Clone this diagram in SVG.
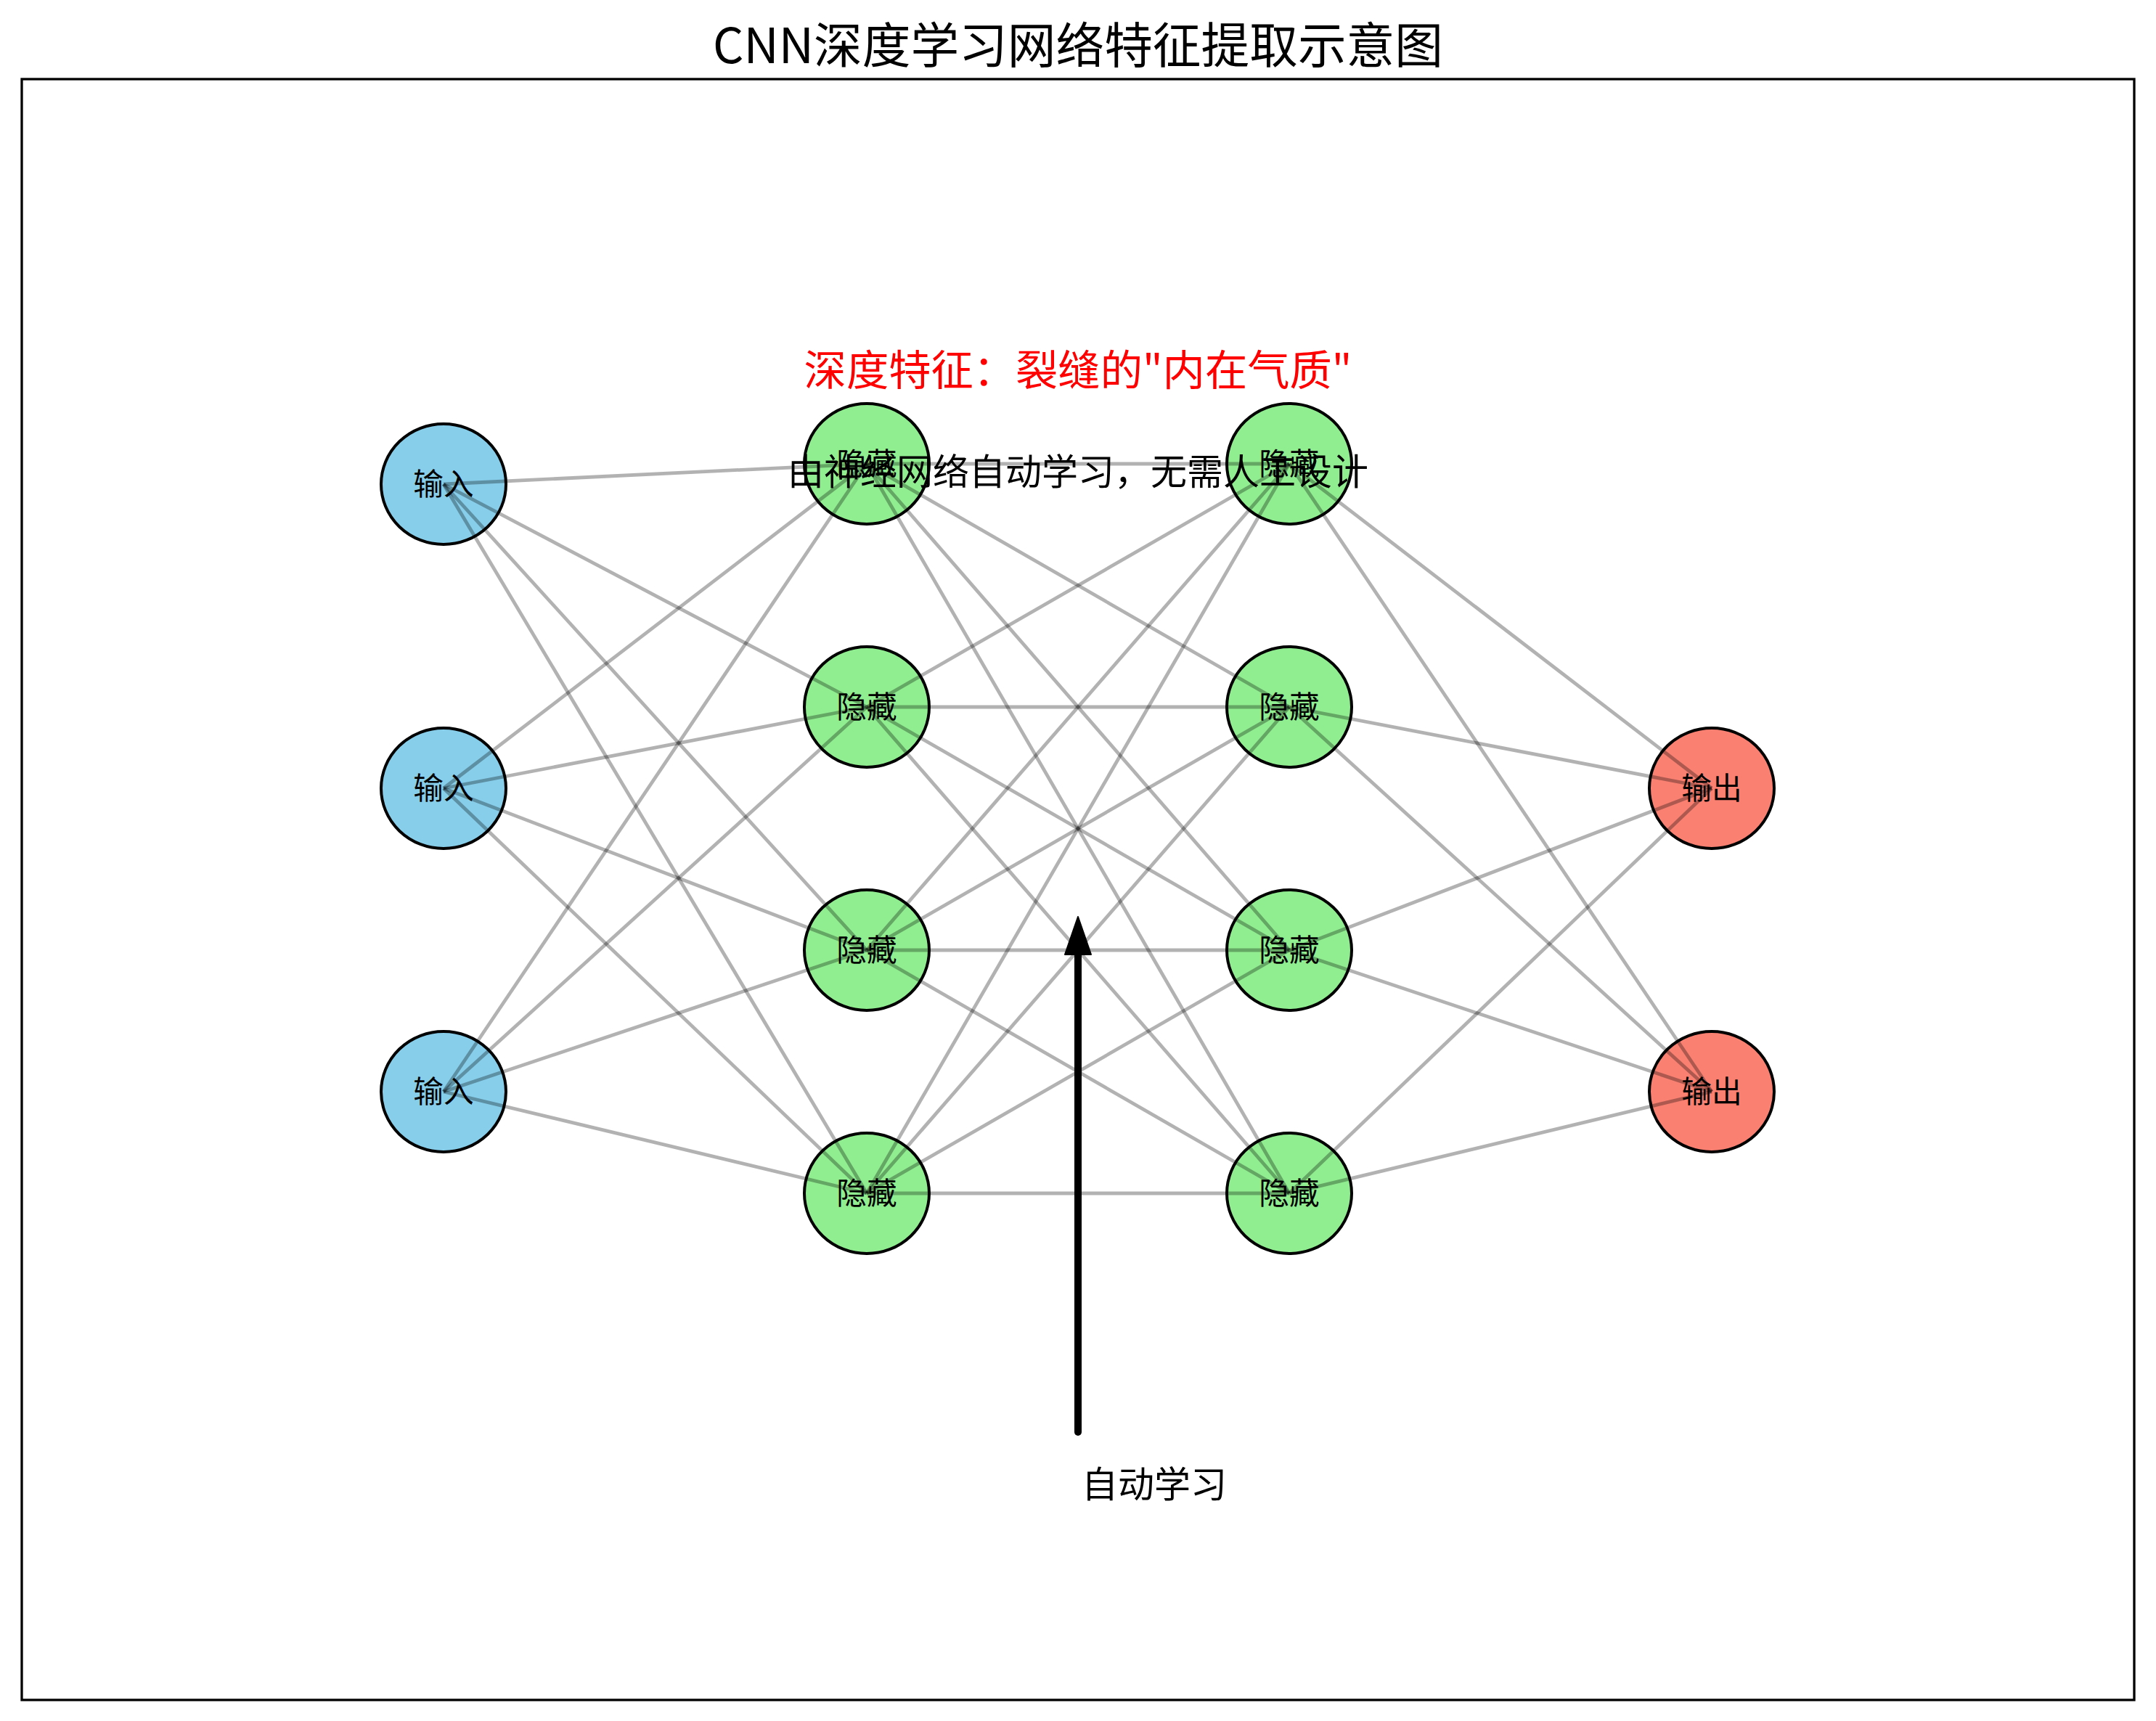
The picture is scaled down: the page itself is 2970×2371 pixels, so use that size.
<svg xmlns="http://www.w3.org/2000/svg" width="2970" height="2371" viewBox="0 0 2970 2371">
<style>
text{font-family:"Noto Sans CJK SC","Liberation Sans",sans-serif;}
.title{font-size:66.7px;fill:#000;text-anchor:middle;}
.lbl{font-size:41.7px;fill:#000;text-anchor:middle;}
.node{stroke:#000;stroke-width:4;}
.in{fill:#87CEEB;}
.hid{fill:#90EE90;}
.out{fill:#FA8072;}
.conn line{stroke:#000;stroke-opacity:0.3;stroke-width:4.8;}
</style>
<rect x="0" y="0" width="2970" height="2371" fill="#fff"/>
<rect x="30" y="109" width="2910" height="2233" fill="none" stroke="#000" stroke-width="3.3"/>
<text class="title" x="1485" y="87">CNN深度学习网络特征提取示意图</text>

<g id="in1"><ellipse class="node in" cx="611" cy="667" rx="86" ry="83"/><text class="lbl" x="611" y="682">输入</text></g>
<g id="in2"><ellipse class="node in" cx="611" cy="1086" rx="86" ry="83"/><text class="lbl" x="611" y="1101">输入</text></g>
<g id="in3"><ellipse class="node in" cx="611" cy="1504" rx="86" ry="83"/><text class="lbl" x="611" y="1519">输入</text></g>

<g id="h1a"><ellipse class="node hid" cx="1194" cy="639" rx="86" ry="83"/><text class="lbl" x="1194" y="654">隐藏</text></g>
<g id="h1b"><ellipse class="node hid" cx="1194" cy="974" rx="86" ry="83"/><text class="lbl" x="1194" y="989">隐藏</text></g>
<g id="h1c"><ellipse class="node hid" cx="1194" cy="1309" rx="86" ry="83"/><text class="lbl" x="1194" y="1324">隐藏</text></g>
<g id="h1d"><ellipse class="node hid" cx="1194" cy="1644" rx="86" ry="83"/><text class="lbl" x="1194" y="1659">隐藏</text></g>

<g id="h2a"><ellipse class="node hid" cx="1776" cy="639" rx="86" ry="83"/><text class="lbl" x="1776" y="654">隐藏</text></g>
<g id="h2b"><ellipse class="node hid" cx="1776" cy="974" rx="86" ry="83"/><text class="lbl" x="1776" y="989">隐藏</text></g>
<g id="h2c"><ellipse class="node hid" cx="1776" cy="1309" rx="86" ry="83"/><text class="lbl" x="1776" y="1324">隐藏</text></g>
<g id="h2d"><ellipse class="node hid" cx="1776" cy="1644" rx="86" ry="83"/><text class="lbl" x="1776" y="1659">隐藏</text></g>

<g id="out1"><ellipse class="node out" cx="2358" cy="1086" rx="86" ry="83"/><text class="lbl" x="2358" y="1101">输出</text></g>
<g id="out2"><ellipse class="node out" cx="2358" cy="1504" rx="86" ry="83"/><text class="lbl" x="2358" y="1519">输出</text></g>

<g id="connectors" class="conn">
<line x1="611" y1="667" x2="1194" y2="639"/>
<line x1="611" y1="667" x2="1194" y2="974"/>
<line x1="611" y1="667" x2="1194" y2="1309"/>
<line x1="611" y1="667" x2="1194" y2="1644"/>
<line x1="611" y1="1086" x2="1194" y2="639"/>
<line x1="611" y1="1086" x2="1194" y2="974"/>
<line x1="611" y1="1086" x2="1194" y2="1309"/>
<line x1="611" y1="1086" x2="1194" y2="1644"/>
<line x1="611" y1="1504" x2="1194" y2="639"/>
<line x1="611" y1="1504" x2="1194" y2="974"/>
<line x1="611" y1="1504" x2="1194" y2="1309"/>
<line x1="611" y1="1504" x2="1194" y2="1644"/>

<line x1="1194" y1="639" x2="1776" y2="639"/>
<line x1="1194" y1="639" x2="1776" y2="974"/>
<line x1="1194" y1="639" x2="1776" y2="1309"/>
<line x1="1194" y1="639" x2="1776" y2="1644"/>
<line x1="1194" y1="974" x2="1776" y2="639"/>
<line x1="1194" y1="974" x2="1776" y2="974"/>
<line x1="1194" y1="974" x2="1776" y2="1309"/>
<line x1="1194" y1="974" x2="1776" y2="1644"/>
<line x1="1194" y1="1309" x2="1776" y2="639"/>
<line x1="1194" y1="1309" x2="1776" y2="974"/>
<line x1="1194" y1="1309" x2="1776" y2="1309"/>
<line x1="1194" y1="1309" x2="1776" y2="1644"/>
<line x1="1194" y1="1644" x2="1776" y2="639"/>
<line x1="1194" y1="1644" x2="1776" y2="974"/>
<line x1="1194" y1="1644" x2="1776" y2="1309"/>
<line x1="1194" y1="1644" x2="1776" y2="1644"/>

<line x1="1776" y1="639" x2="2358" y2="1086"/>
<line x1="1776" y1="639" x2="2358" y2="1504"/>
<line x1="1776" y1="974" x2="2358" y2="1086"/>
<line x1="1776" y1="974" x2="2358" y2="1504"/>
<line x1="1776" y1="1309" x2="2358" y2="1086"/>
<line x1="1776" y1="1309" x2="2358" y2="1504"/>
<line x1="1776" y1="1644" x2="2358" y2="1086"/>
<line x1="1776" y1="1644" x2="2358" y2="1504"/>
</g>

<g id="annotations">
<text x="1485" y="531" font-size="58.3" fill="#FF0000" text-anchor="middle">深度特征：裂缝的"内在气质"</text>
<text x="1485" y="668" font-size="50" fill="#000" text-anchor="middle">由神经网络自动学习，无需人工设计</text>
</g>

<g id="arrow">
<line x1="1485" y1="1973" x2="1485" y2="1305" stroke="#000" stroke-width="10" stroke-linecap="round"/>
<polygon points="1485,1263 1467,1315 1503,1315" fill="#000" stroke="#000" stroke-width="2" stroke-linejoin="round"/>
<text x="1490" y="2063" font-size="50" fill="#000">自动学习</text>
</g>
</svg>
